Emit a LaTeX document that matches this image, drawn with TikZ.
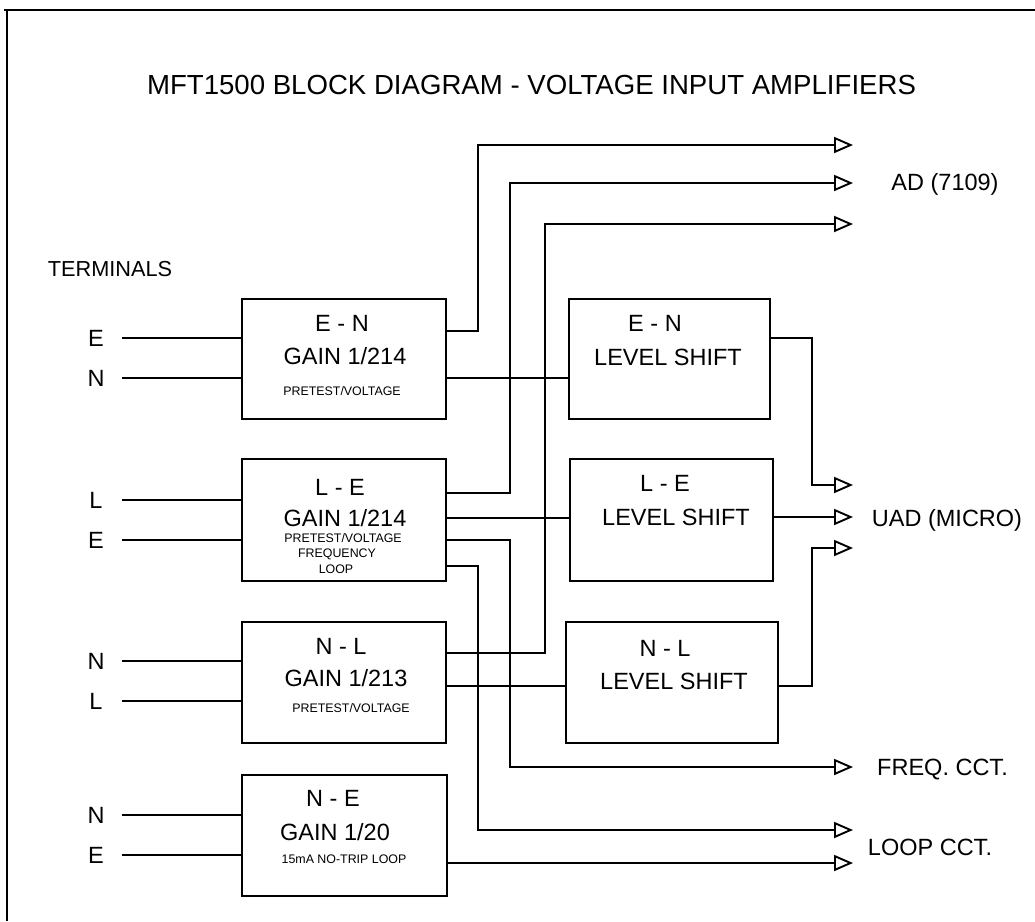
\documentclass[tikz,border=0pt]{standalone}
\usepackage{fontspec}
\setmainfont{Liberation Sans}
\usetikzlibrary{arrows.meta}
\tikzset{
  wire/.style={draw, line width=1.9pt},
  sig/.style={wire, -{Triangle[open,length=19pt,width=16pt,line width=1.9pt]}},
  blk/.style={draw, line width=1.9pt, outer sep=0pt, inner sep=0pt},
  big/.style={font=\fontsize{23.5}{26}\selectfont, inner sep=0pt, outer sep=0pt, anchor=base},
  small/.style={font=\fontsize{12.4}{14}\selectfont, inner sep=0pt, outer sep=0pt, anchor=base},
  term/.style={font=\fontsize{23.5}{26}\selectfont, inner sep=0pt, outer sep=0pt, minimum width=52pt},
}
\begin{document}
\begin{tikzpicture}[x=1pt,y=-1pt]
\useasboundingbox (0,0) rectangle (1035,921);
% frame
\draw[line width=2pt] (4,10) -- (1035,10);
\draw[line width=2pt] (7,10) -- (7,921);

% title
\node[font=\fontsize{27.6}{30}\selectfont, inner sep=0pt, anchor=base] (title) at (531.5,94) {MFT1500 BLOCK DIAGRAM - VOLTAGE INPUT AMPLIFIERS};
\node[font=\fontsize{21.7}{24}\selectfont, inner sep=0pt, anchor=base] (terms) at (110,276) {TERMINALS};

% gain blocks
\node[blk, minimum width=204pt, minimum height=120pt] (g1) at (344,359) {};
\node[blk, minimum width=204pt, minimum height=122pt] (g2) at (344,520) {};
\node[blk, minimum width=204pt, minimum height=121pt] (g3) at (344,682.5) {};
\node[blk, minimum width=205pt, minimum height=121pt] (g4) at (344.5,835.5) {};
% level shift blocks
\node[blk, minimum width=201pt, minimum height=120pt] (s1) at (669.5,359) {};
\node[blk, minimum width=203pt, minimum height=122pt] (s2) at (671.5,520) {};
\node[blk, minimum width=212pt, minimum height=121pt] (s3) at (672,682.5) {};

% block texts
\node[big] (g1a) at (342,331.4) {E - N};
\node[big] (g1b) at (345,364.4) {GAIN 1/214};
\node[small] (g1c) at (342,395.4) {PRETEST/VOLTAGE};

\node[big] (g2a) at (340,495.4) {L - E};
\node[big] (g2b) at (345,526.4) {GAIN 1/214};
\node[small] (g2c) at (343,542.4) {PRETEST/VOLTAGE};
\node[small] (g2d) at (337,557.4) {FREQUENCY};
\node[small] (g2e) at (336,573.4) {LOOP};

\node[big] (g3a) at (341,654.4) {N - L};
\node[big] (g3b) at (346,686.4) {GAIN 1/213};
\node[small] (g3c) at (351,712.4) {PRETEST/VOLTAGE};

\node[big] (g4a) at (333,806.4) {N - E};
\node[big] (g4b) at (335,840.4) {GAIN 1/20};
\node[small] (g4c) at (344,863.4) {15mA NO-TRIP LOOP};

\node[big] (s1a) at (655,331.4) {E - N};
\node[big] (s1b) at (668,365.4) {LEVEL SHIFT};
\node[big] (s2a) at (665,491.4) {L - E};
\node[big] (s2b) at (676,525.4) {LEVEL SHIFT};
\node[big] (s3a) at (665,656.4) {N - L};
\node[big] (s3b) at (674,689.4) {LEVEL SHIFT};

% terminals
\node[term] (t1a) at (96,338) {E};
\node[term] (t1b) at (96,378) {N};
\node[term] (t2a) at (96,500) {L};
\node[term] (t2b) at (96,540) {E};
\node[term] (t3a) at (96,661) {N};
\node[term] (t3b) at (96,701) {L};
\node[term] (t4a) at (96,815) {N};
\node[term] (t4b) at (96,855) {E};
\foreach \t/\g in {t1a/g1,t1b/g1,t2a/g2,t2b/g2,t3a/g3,t3b/g3,t4a/g4,t4b/g4}
  \draw[wire] (\t.east) -- (\t.east -| \g.west);

% output labels
\node[big] (ad) at (945,190.4) {AD (7109)};
\node[big] (uad) at (947,526.4) {UAD (MICRO)};
\node[big] (freq) at (942.5,775.4) {FREQ. CCT.};
\node[big] (loop) at (930,855) {LOOP CCT.};

% arrow end points and bus columns
\coordinate (a1) at (853,145);
\coordinate (a2) at (853,183);
\coordinate (a3) at (853,224);
\coordinate (u1) at (853,485);
\coordinate (u2) at (853,517);
\coordinate (u3) at (853,548);
\coordinate (fq) at (853,767);
\coordinate (lp) at (853,830);
\coordinate (lp2) at (853,863);
\coordinate (v1) at (478,0);
\coordinate (v2) at (510,0);
\coordinate (v3) at (545,0);
\coordinate (v4) at (812,0);

% connectors
\draw[sig] (g1.east |- 0,331) -| (v1 |- a1) -- (a1);
\draw[wire] (g1.east |- 0,378) -- (s1.west |- 0,378);
\draw[sig] (g2.east |- 0,493) -| (v2 |- a2) -- (a2);
\draw[wire] (g2.east |- 0,518) -- (s2.west |- 0,518);
\draw[sig] (g2.east |- 0,540) -| (v2 |- fq) -- (fq);
\draw[sig] (g2.east |- 0,566) -| (v1 |- lp) -- (lp);
\draw[sig] (g3.east |- 0,653) -| (v3 |- a3) -- (a3);
\draw[wire] (g3.east |- 0,686) -- (s3.west |- 0,686);
\draw[sig] (g4.east |- lp2) -- (lp2);
\draw[sig] (s1.east |- 0,338) -| (v4 |- u1) -- (u1);
\draw[sig] (s2.east |- u2) -- (u2);
\draw[sig] (s3.east |- 0,686) -| (v4 |- u3) -- (u3);
\end{tikzpicture}
\end{document}
